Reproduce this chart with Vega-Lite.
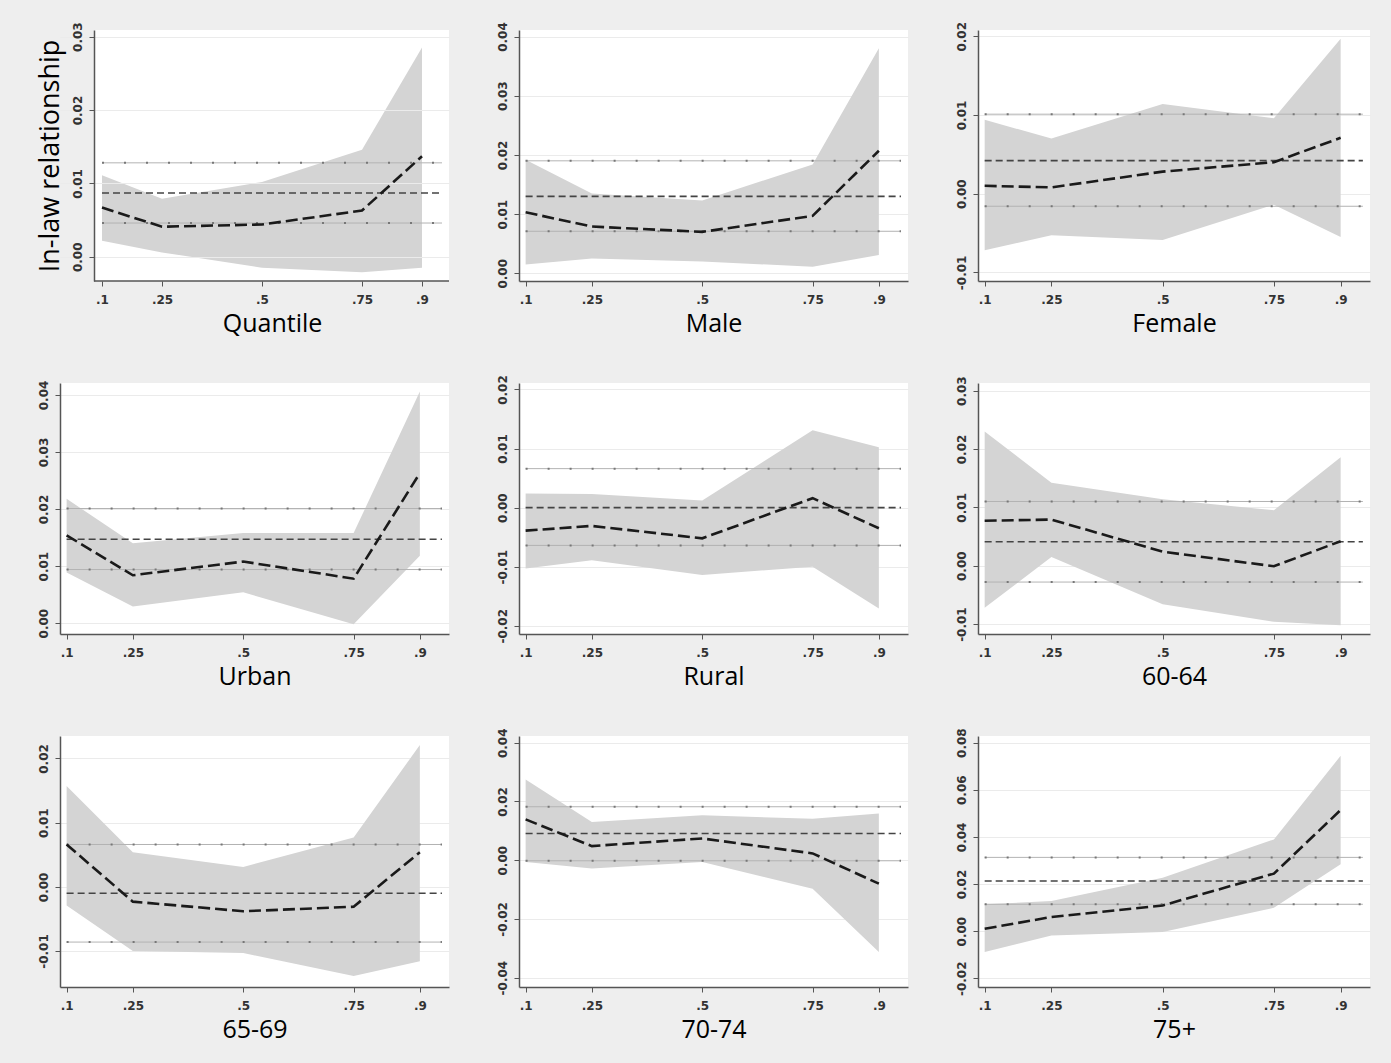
{
  "$schema": "https://vega.github.io/schema/vega-lite/v6.json",
  "background": "#eeeeee",
  "padding": {"left": 35, "top": 21, "right": 23, "bottom": 22},
  "datasets": {
    "q": [
      {"panel": "Quantile", "tau": 0.1, "est": 0.0067, "lo": 0.0022, "hi": 0.0111},
      {"panel": "Quantile", "tau": 0.25, "est": 0.0041, "lo": 0.0006, "hi": 0.0079},
      {"panel": "Quantile", "tau": 0.5, "est": 0.0044, "lo": -0.0015, "hi": 0.0102},
      {"panel": "Quantile", "tau": 0.75, "est": 0.0063, "lo": -0.0021, "hi": 0.0146},
      {"panel": "Quantile", "tau": 0.9, "est": 0.0137, "lo": -0.0015, "hi": 0.0285},
      {"panel": "Male", "tau": 0.1, "est": 0.0103, "lo": 0.0015, "hi": 0.0192},
      {"panel": "Male", "tau": 0.25, "est": 0.0079, "lo": 0.0025, "hi": 0.0135},
      {"panel": "Male", "tau": 0.5, "est": 0.0070, "lo": 0.0020, "hi": 0.0123},
      {"panel": "Male", "tau": 0.75, "est": 0.0097, "lo": 0.0011, "hi": 0.0184},
      {"panel": "Male", "tau": 0.9, "est": 0.0207, "lo": 0.0031, "hi": 0.0380},
      {"panel": "Female", "tau": 0.1, "est": 0.0010, "lo": -0.0072, "hi": 0.0094},
      {"panel": "Female", "tau": 0.25, "est": 0.0008, "lo": -0.0053, "hi": 0.0070},
      {"panel": "Female", "tau": 0.5, "est": 0.0028, "lo": -0.0059, "hi": 0.0114},
      {"panel": "Female", "tau": 0.75, "est": 0.0040, "lo": -0.0014, "hi": 0.0096},
      {"panel": "Female", "tau": 0.9, "est": 0.0071, "lo": -0.0055, "hi": 0.0197},
      {"panel": "Urban", "tau": 0.1, "est": 0.0154, "lo": 0.0089, "hi": 0.0218},
      {"panel": "Urban", "tau": 0.25, "est": 0.0084, "lo": 0.0029, "hi": 0.0140},
      {"panel": "Urban", "tau": 0.5, "est": 0.0108, "lo": 0.0054, "hi": 0.0158},
      {"panel": "Urban", "tau": 0.75, "est": 0.0078, "lo": -0.0002, "hi": 0.0158},
      {"panel": "Urban", "tau": 0.9, "est": 0.0263, "lo": 0.0118, "hi": 0.0406},
      {"panel": "Rural", "tau": 0.1, "est": -0.0039, "lo": -0.0103, "hi": 0.0024},
      {"panel": "Rural", "tau": 0.25, "est": -0.0031, "lo": -0.0089, "hi": 0.0023},
      {"panel": "Rural", "tau": 0.5, "est": -0.0052, "lo": -0.0114, "hi": 0.0012},
      {"panel": "Rural", "tau": 0.75, "est": 0.0016, "lo": -0.0100, "hi": 0.0131},
      {"panel": "Rural", "tau": 0.9, "est": -0.0035, "lo": -0.0171, "hi": 0.0102},
      {"panel": "60-64", "tau": 0.1, "est": 0.0077, "lo": -0.0072, "hi": 0.0230},
      {"panel": "60-64", "tau": 0.25, "est": 0.0079, "lo": 0.0015, "hi": 0.0142},
      {"panel": "60-64", "tau": 0.5, "est": 0.0024, "lo": -0.0066, "hi": 0.0114},
      {"panel": "60-64", "tau": 0.75, "est": -0.0001, "lo": -0.0096, "hi": 0.0095},
      {"panel": "60-64", "tau": 0.9, "est": 0.0042, "lo": -0.0102, "hi": 0.0186},
      {"panel": "65-69", "tau": 0.1, "est": 0.0066, "lo": -0.0029, "hi": 0.0157},
      {"panel": "65-69", "tau": 0.25, "est": -0.0023, "lo": -0.0100, "hi": 0.0054},
      {"panel": "65-69", "tau": 0.5, "est": -0.0038, "lo": -0.0103, "hi": 0.0031},
      {"panel": "65-69", "tau": 0.75, "est": -0.0031, "lo": -0.0139, "hi": 0.0077},
      {"panel": "65-69", "tau": 0.9, "est": 0.0054, "lo": -0.0116, "hi": 0.0221},
      {"panel": "70-74", "tau": 0.1, "est": 0.0139, "lo": -0.0006, "hi": 0.0275},
      {"panel": "70-74", "tau": 0.25, "est": 0.0048, "lo": -0.0028, "hi": 0.0130},
      {"panel": "70-74", "tau": 0.5, "est": 0.0074, "lo": -0.0006, "hi": 0.0153},
      {"panel": "70-74", "tau": 0.75, "est": 0.0023, "lo": -0.0097, "hi": 0.0141},
      {"panel": "70-74", "tau": 0.9, "est": -0.0080, "lo": -0.0313, "hi": 0.0159},
      {"panel": "75+", "tau": 0.1, "est": 0.0010, "lo": -0.0089, "hi": 0.0114},
      {"panel": "75+", "tau": 0.25, "est": 0.0060, "lo": -0.0018, "hi": 0.0128},
      {"panel": "75+", "tau": 0.5, "est": 0.0109, "lo": -0.0004, "hi": 0.0227},
      {"panel": "75+", "tau": 0.75, "est": 0.0244, "lo": 0.0099, "hi": 0.0389},
      {"panel": "75+", "tau": 0.9, "est": 0.0514, "lo": 0.0284, "hi": 0.0744}
    ],
    "ols": [
      {"panel": "Quantile", "b": 0.0087, "lo": 0.0046, "hi": 0.0128},
      {"panel": "Male", "b": 0.0130, "lo": 0.0071, "hi": 0.0190},
      {"panel": "Female", "b": 0.0042, "lo": -0.0016, "hi": 0.0101},
      {"panel": "Urban", "b": 0.0147, "lo": 0.0094, "hi": 0.0201},
      {"panel": "Rural", "b": 0.0000, "lo": -0.0064, "hi": 0.0066},
      {"panel": "60-64", "b": 0.0041, "lo": -0.0028, "hi": 0.0110},
      {"panel": "65-69", "b": -0.0010, "lo": -0.0086, "hi": 0.0066},
      {"panel": "70-74", "b": 0.0091, "lo": -0.0002, "hi": 0.0182},
      {"panel": "75+", "b": 0.0213, "lo": 0.0114, "hi": 0.0313}
    ]
  },
  "spacing": 38,
  "vconcat": [
    {"hconcat": [
      {"width": 389, "height": 251,
       "layer": [
        {"data": {"name": "ols"}, "transform": [{"filter": "datum.panel === 'Quantile'"}], "mark": {"type": "rect", "color": "#eeeeee"}, "encoding": {"x": {"datum": -0.005, "type": "quantitative", "scale": {"domain": [-0.005, 0.9675], "nice": false, "zero": false}, "axis": {"values": [0.1, 0.25, 0.5, 0.75, 0.9], "labelExpr": "slice(format(datum.value, '.2~f'), 1)", "title": "Quantile", "domain": false, "titleX": 212}}, "x2": {"datum": 0.08}, "y": {"datum": 0.0309, "type": "quantitative", "scale": {"domain": [-0.0033, 0.0309], "nice": false, "zero": false}, "axis": {"values": [0, 0.01, 0.02, 0.03], "labelExpr": "replace(format(datum.value, '.2f'), '\u2212', '-')", "title": "In-law relationship", "offset": -34, "zindex": 1}}, "y2": {"datum": -0.0033}}},
        {"data": {"name": "ols"}, "transform": [{"filter": "datum.panel === 'Quantile'"}], "mark": {"type": "rule", "color": "#555555", "strokeWidth": 1.5}, "encoding": {"x": {"datum": 0.08, "type": "quantitative"}, "x2": {"datum": 0.9675}, "y": {"datum": -0.0033, "type": "quantitative"}}},
        {"data": {"name": "q"}, "transform": [{"filter": "datum.panel === 'Quantile'"}], "mark": {"type": "area", "color": "#d4d4d4"}, "encoding": {"x": {"field": "tau", "type": "quantitative"}, "y": {"field": "lo", "type": "quantitative"}, "y2": {"field": "hi"}}},
        {"data": {"name": "ols"}, "transform": [{"filter": "datum.panel === 'Quantile'"}], "layer": [
          {"mark": {"type": "rule", "color": "#b3b3b3", "strokeWidth": 1}, "encoding": {"x": {"datum": 0.1, "type": "quantitative"}, "x2": {"datum": 0.95}, "y": {"field": "lo", "type": "quantitative"}}},
          {"mark": {"type": "rule", "color": "#b3b3b3", "strokeWidth": 1}, "encoding": {"x": {"datum": 0.1, "type": "quantitative"}, "x2": {"datum": 0.95}, "y": {"field": "hi", "type": "quantitative"}}},
          {"mark": {"type": "rule", "color": "#777777", "strokeWidth": 2, "strokeDash": [2, 20]}, "encoding": {"x": {"datum": 0.1, "type": "quantitative"}, "x2": {"datum": 0.95}, "y": {"field": "lo", "type": "quantitative"}}},
          {"mark": {"type": "rule", "color": "#777777", "strokeWidth": 2, "strokeDash": [2, 20]}, "encoding": {"x": {"datum": 0.1, "type": "quantitative"}, "x2": {"datum": 0.95}, "y": {"field": "hi", "type": "quantitative"}}},
          {"mark": {"type": "rule", "color": "#444444", "strokeWidth": 1.6, "strokeDash": [7, 4]}, "encoding": {"x": {"datum": 0.1, "type": "quantitative"}, "x2": {"datum": 0.95}, "y": {"field": "b", "type": "quantitative"}}}
        ]},
        {"data": {"name": "q"}, "transform": [{"filter": "datum.panel === 'Quantile'"}], "mark": {"type": "line", "color": "#1a1a1a", "strokeWidth": 2.6, "strokeDash": [12, 5]}, "encoding": {"x": {"field": "tau", "type": "quantitative"}, "y": {"field": "est", "type": "quantitative"}}}
       ]},
      {"width": 389, "height": 251,
       "layer": [
        {"data": {"name": "q"}, "transform": [{"filter": "datum.panel === 'Male'"}], "mark": {"type": "area", "color": "#d4d4d4"}, "encoding": {"x": {"field": "tau", "type": "quantitative", "scale": {"domain": [0.085, 0.966], "nice": false, "zero": false}, "axis": {"values": [0.1, 0.25, 0.5, 0.75, 0.9], "labelExpr": "slice(format(datum.value, '.2~f'), 1)", "title": "Male"}}, "y": {"field": "lo", "type": "quantitative", "scale": {"domain": [-0.0013, 0.0411], "nice": false, "zero": false}, "axis": {"values": [0, 0.01, 0.02, 0.03, 0.04], "labelExpr": "replace(format(datum.value, '.2f'), '\u2212', '-')", "title": null}}, "y2": {"field": "hi"}}},
        {"data": {"name": "ols"}, "transform": [{"filter": "datum.panel === 'Male'"}], "layer": [
          {"mark": {"type": "rule", "color": "#b3b3b3", "strokeWidth": 1}, "encoding": {"x": {"datum": 0.1, "type": "quantitative"}, "x2": {"datum": 0.95}, "y": {"field": "lo", "type": "quantitative"}}},
          {"mark": {"type": "rule", "color": "#b3b3b3", "strokeWidth": 1}, "encoding": {"x": {"datum": 0.1, "type": "quantitative"}, "x2": {"datum": 0.95}, "y": {"field": "hi", "type": "quantitative"}}},
          {"mark": {"type": "rule", "color": "#777777", "strokeWidth": 2, "strokeDash": [2, 20]}, "encoding": {"x": {"datum": 0.1, "type": "quantitative"}, "x2": {"datum": 0.95}, "y": {"field": "lo", "type": "quantitative"}}},
          {"mark": {"type": "rule", "color": "#777777", "strokeWidth": 2, "strokeDash": [2, 20]}, "encoding": {"x": {"datum": 0.1, "type": "quantitative"}, "x2": {"datum": 0.95}, "y": {"field": "hi", "type": "quantitative"}}},
          {"mark": {"type": "rule", "color": "#444444", "strokeWidth": 1.6, "strokeDash": [7, 4]}, "encoding": {"x": {"datum": 0.1, "type": "quantitative"}, "x2": {"datum": 0.95}, "y": {"field": "b", "type": "quantitative"}}}
        ]},
        {"data": {"name": "q"}, "transform": [{"filter": "datum.panel === 'Male'"}], "mark": {"type": "line", "color": "#1a1a1a", "strokeWidth": 2.6, "strokeDash": [12, 5]}, "encoding": {"x": {"field": "tau", "type": "quantitative"}, "y": {"field": "est", "type": "quantitative"}}}
       ]},
      {"width": 392, "height": 251,
       "layer": [
        {"data": {"name": "q"}, "transform": [{"filter": "datum.panel === 'Female'"}], "mark": {"type": "area", "color": "#d4d4d4"}, "encoding": {"x": {"field": "tau", "type": "quantitative", "scale": {"domain": [0.085, 0.966], "nice": false, "zero": false}, "axis": {"values": [0.1, 0.25, 0.5, 0.75, 0.9], "labelExpr": "slice(format(datum.value, '.2~f'), 1)", "title": "Female"}}, "y": {"field": "lo", "type": "quantitative", "scale": {"domain": [-0.0111, 0.0208], "nice": false, "zero": false}, "axis": {"values": [-0.01, 0, 0.01, 0.02], "labelExpr": "replace(format(datum.value, '.2f'), '\u2212', '-')", "title": null}}, "y2": {"field": "hi"}}},
        {"data": {"name": "ols"}, "transform": [{"filter": "datum.panel === 'Female'"}], "layer": [
          {"mark": {"type": "rule", "color": "#b3b3b3", "strokeWidth": 1}, "encoding": {"x": {"datum": 0.1, "type": "quantitative"}, "x2": {"datum": 0.95}, "y": {"field": "lo", "type": "quantitative"}}},
          {"mark": {"type": "rule", "color": "#b3b3b3", "strokeWidth": 1}, "encoding": {"x": {"datum": 0.1, "type": "quantitative"}, "x2": {"datum": 0.95}, "y": {"field": "hi", "type": "quantitative"}}},
          {"mark": {"type": "rule", "color": "#777777", "strokeWidth": 2, "strokeDash": [2, 20]}, "encoding": {"x": {"datum": 0.1, "type": "quantitative"}, "x2": {"datum": 0.95}, "y": {"field": "lo", "type": "quantitative"}}},
          {"mark": {"type": "rule", "color": "#777777", "strokeWidth": 2, "strokeDash": [2, 20]}, "encoding": {"x": {"datum": 0.1, "type": "quantitative"}, "x2": {"datum": 0.95}, "y": {"field": "hi", "type": "quantitative"}}},
          {"mark": {"type": "rule", "color": "#444444", "strokeWidth": 1.6, "strokeDash": [7, 4]}, "encoding": {"x": {"datum": 0.1, "type": "quantitative"}, "x2": {"datum": 0.95}, "y": {"field": "b", "type": "quantitative"}}}
        ]},
        {"data": {"name": "q"}, "transform": [{"filter": "datum.panel === 'Female'"}], "mark": {"type": "line", "color": "#1a1a1a", "strokeWidth": 2.6, "strokeDash": [12, 5]}, "encoding": {"x": {"field": "tau", "type": "quantitative"}, "y": {"field": "est", "type": "quantitative"}}}
       ]}
    ], "bounds": "flush", "spacing": 70},
    {"hconcat": [
      {"width": 389, "height": 251,
       "layer": [
        {"data": {"name": "q"}, "transform": [{"filter": "datum.panel === 'Urban'"}], "mark": {"type": "area", "color": "#d4d4d4"}, "encoding": {"x": {"field": "tau", "type": "quantitative", "scale": {"domain": [0.085, 0.966], "nice": false, "zero": false}, "axis": {"values": [0.1, 0.25, 0.5, 0.75, 0.9], "labelExpr": "slice(format(datum.value, '.2~f'), 1)", "title": "Urban"}}, "y": {"field": "lo", "type": "quantitative", "scale": {"domain": [-0.0019, 0.0421], "nice": false, "zero": false}, "axis": {"values": [0, 0.01, 0.02, 0.03, 0.04], "labelExpr": "replace(format(datum.value, '.2f'), '\u2212', '-')", "title": null}}, "y2": {"field": "hi"}}},
        {"data": {"name": "ols"}, "transform": [{"filter": "datum.panel === 'Urban'"}], "layer": [
          {"mark": {"type": "rule", "color": "#b3b3b3", "strokeWidth": 1}, "encoding": {"x": {"datum": 0.1, "type": "quantitative"}, "x2": {"datum": 0.95}, "y": {"field": "lo", "type": "quantitative"}}},
          {"mark": {"type": "rule", "color": "#b3b3b3", "strokeWidth": 1}, "encoding": {"x": {"datum": 0.1, "type": "quantitative"}, "x2": {"datum": 0.95}, "y": {"field": "hi", "type": "quantitative"}}},
          {"mark": {"type": "rule", "color": "#777777", "strokeWidth": 2, "strokeDash": [2, 20]}, "encoding": {"x": {"datum": 0.1, "type": "quantitative"}, "x2": {"datum": 0.95}, "y": {"field": "lo", "type": "quantitative"}}},
          {"mark": {"type": "rule", "color": "#777777", "strokeWidth": 2, "strokeDash": [2, 20]}, "encoding": {"x": {"datum": 0.1, "type": "quantitative"}, "x2": {"datum": 0.95}, "y": {"field": "hi", "type": "quantitative"}}},
          {"mark": {"type": "rule", "color": "#444444", "strokeWidth": 1.6, "strokeDash": [7, 4]}, "encoding": {"x": {"datum": 0.1, "type": "quantitative"}, "x2": {"datum": 0.95}, "y": {"field": "b", "type": "quantitative"}}}
        ]},
        {"data": {"name": "q"}, "transform": [{"filter": "datum.panel === 'Urban'"}], "mark": {"type": "line", "color": "#1a1a1a", "strokeWidth": 2.6, "strokeDash": [12, 5]}, "encoding": {"x": {"field": "tau", "type": "quantitative"}, "y": {"field": "est", "type": "quantitative"}}}
       ]},
      {"width": 389, "height": 251,
       "layer": [
        {"data": {"name": "q"}, "transform": [{"filter": "datum.panel === 'Rural'"}], "mark": {"type": "area", "color": "#d4d4d4"}, "encoding": {"x": {"field": "tau", "type": "quantitative", "scale": {"domain": [0.085, 0.966], "nice": false, "zero": false}, "axis": {"values": [0.1, 0.25, 0.5, 0.75, 0.9], "labelExpr": "slice(format(datum.value, '.2~f'), 1)", "title": "Rural"}}, "y": {"field": "lo", "type": "quantitative", "scale": {"domain": [-0.0214, 0.0211], "nice": false, "zero": false}, "axis": {"values": [-0.02, -0.01, 0, 0.01, 0.02], "labelExpr": "replace(format(datum.value, '.2f'), '\u2212', '-')", "title": null}}, "y2": {"field": "hi"}}},
        {"data": {"name": "ols"}, "transform": [{"filter": "datum.panel === 'Rural'"}], "layer": [
          {"mark": {"type": "rule", "color": "#b3b3b3", "strokeWidth": 1}, "encoding": {"x": {"datum": 0.1, "type": "quantitative"}, "x2": {"datum": 0.95}, "y": {"field": "lo", "type": "quantitative"}}},
          {"mark": {"type": "rule", "color": "#b3b3b3", "strokeWidth": 1}, "encoding": {"x": {"datum": 0.1, "type": "quantitative"}, "x2": {"datum": 0.95}, "y": {"field": "hi", "type": "quantitative"}}},
          {"mark": {"type": "rule", "color": "#777777", "strokeWidth": 2, "strokeDash": [2, 20]}, "encoding": {"x": {"datum": 0.1, "type": "quantitative"}, "x2": {"datum": 0.95}, "y": {"field": "lo", "type": "quantitative"}}},
          {"mark": {"type": "rule", "color": "#777777", "strokeWidth": 2, "strokeDash": [2, 20]}, "encoding": {"x": {"datum": 0.1, "type": "quantitative"}, "x2": {"datum": 0.95}, "y": {"field": "hi", "type": "quantitative"}}},
          {"mark": {"type": "rule", "color": "#444444", "strokeWidth": 1.6, "strokeDash": [7, 4]}, "encoding": {"x": {"datum": 0.1, "type": "quantitative"}, "x2": {"datum": 0.95}, "y": {"field": "b", "type": "quantitative"}}}
        ]},
        {"data": {"name": "q"}, "transform": [{"filter": "datum.panel === 'Rural'"}], "mark": {"type": "line", "color": "#1a1a1a", "strokeWidth": 2.6, "strokeDash": [12, 5]}, "encoding": {"x": {"field": "tau", "type": "quantitative"}, "y": {"field": "est", "type": "quantitative"}}}
       ]},
      {"width": 392, "height": 251,
       "layer": [
        {"data": {"name": "q"}, "transform": [{"filter": "datum.panel === '60-64'"}], "mark": {"type": "area", "color": "#d4d4d4"}, "encoding": {"x": {"field": "tau", "type": "quantitative", "scale": {"domain": [0.085, 0.966], "nice": false, "zero": false}, "axis": {"values": [0.1, 0.25, 0.5, 0.75, 0.9], "labelExpr": "slice(format(datum.value, '.2~f'), 1)", "title": "60-64"}}, "y": {"field": "lo", "type": "quantitative", "scale": {"domain": [-0.0117, 0.0313], "nice": false, "zero": false}, "axis": {"values": [-0.01, 0, 0.01, 0.02, 0.03], "labelExpr": "replace(format(datum.value, '.2f'), '\u2212', '-')", "title": null}}, "y2": {"field": "hi"}}},
        {"data": {"name": "ols"}, "transform": [{"filter": "datum.panel === '60-64'"}], "layer": [
          {"mark": {"type": "rule", "color": "#b3b3b3", "strokeWidth": 1}, "encoding": {"x": {"datum": 0.1, "type": "quantitative"}, "x2": {"datum": 0.95}, "y": {"field": "lo", "type": "quantitative"}}},
          {"mark": {"type": "rule", "color": "#b3b3b3", "strokeWidth": 1}, "encoding": {"x": {"datum": 0.1, "type": "quantitative"}, "x2": {"datum": 0.95}, "y": {"field": "hi", "type": "quantitative"}}},
          {"mark": {"type": "rule", "color": "#777777", "strokeWidth": 2, "strokeDash": [2, 20]}, "encoding": {"x": {"datum": 0.1, "type": "quantitative"}, "x2": {"datum": 0.95}, "y": {"field": "lo", "type": "quantitative"}}},
          {"mark": {"type": "rule", "color": "#777777", "strokeWidth": 2, "strokeDash": [2, 20]}, "encoding": {"x": {"datum": 0.1, "type": "quantitative"}, "x2": {"datum": 0.95}, "y": {"field": "hi", "type": "quantitative"}}},
          {"mark": {"type": "rule", "color": "#444444", "strokeWidth": 1.6, "strokeDash": [7, 4]}, "encoding": {"x": {"datum": 0.1, "type": "quantitative"}, "x2": {"datum": 0.95}, "y": {"field": "b", "type": "quantitative"}}}
        ]},
        {"data": {"name": "q"}, "transform": [{"filter": "datum.panel === '60-64'"}], "mark": {"type": "line", "color": "#1a1a1a", "strokeWidth": 2.6, "strokeDash": [12, 5]}, "encoding": {"x": {"field": "tau", "type": "quantitative"}, "y": {"field": "est", "type": "quantitative"}}}
       ]}
    ], "bounds": "flush", "spacing": 70},
    {"hconcat": [
      {"width": 389, "height": 251,
       "layer": [
        {"data": {"name": "q"}, "transform": [{"filter": "datum.panel === '65-69'"}], "mark": {"type": "area", "color": "#d4d4d4"}, "encoding": {"x": {"field": "tau", "type": "quantitative", "scale": {"domain": [0.085, 0.966], "nice": false, "zero": false}, "axis": {"values": [0.1, 0.25, 0.5, 0.75, 0.9], "labelExpr": "slice(format(datum.value, '.2~f'), 1)", "title": "65-69"}}, "y": {"field": "lo", "type": "quantitative", "scale": {"domain": [-0.0156, 0.0235], "nice": false, "zero": false}, "axis": {"values": [-0.01, 0, 0.01, 0.02], "labelExpr": "replace(format(datum.value, '.2f'), '\u2212', '-')", "title": null}}, "y2": {"field": "hi"}}},
        {"data": {"name": "ols"}, "transform": [{"filter": "datum.panel === '65-69'"}], "layer": [
          {"mark": {"type": "rule", "color": "#b3b3b3", "strokeWidth": 1}, "encoding": {"x": {"datum": 0.1, "type": "quantitative"}, "x2": {"datum": 0.95}, "y": {"field": "lo", "type": "quantitative"}}},
          {"mark": {"type": "rule", "color": "#b3b3b3", "strokeWidth": 1}, "encoding": {"x": {"datum": 0.1, "type": "quantitative"}, "x2": {"datum": 0.95}, "y": {"field": "hi", "type": "quantitative"}}},
          {"mark": {"type": "rule", "color": "#777777", "strokeWidth": 2, "strokeDash": [2, 20]}, "encoding": {"x": {"datum": 0.1, "type": "quantitative"}, "x2": {"datum": 0.95}, "y": {"field": "lo", "type": "quantitative"}}},
          {"mark": {"type": "rule", "color": "#777777", "strokeWidth": 2, "strokeDash": [2, 20]}, "encoding": {"x": {"datum": 0.1, "type": "quantitative"}, "x2": {"datum": 0.95}, "y": {"field": "hi", "type": "quantitative"}}},
          {"mark": {"type": "rule", "color": "#444444", "strokeWidth": 1.6, "strokeDash": [7, 4]}, "encoding": {"x": {"datum": 0.1, "type": "quantitative"}, "x2": {"datum": 0.95}, "y": {"field": "b", "type": "quantitative"}}}
        ]},
        {"data": {"name": "q"}, "transform": [{"filter": "datum.panel === '65-69'"}], "mark": {"type": "line", "color": "#1a1a1a", "strokeWidth": 2.6, "strokeDash": [12, 5]}, "encoding": {"x": {"field": "tau", "type": "quantitative"}, "y": {"field": "est", "type": "quantitative"}}}
       ]},
      {"width": 389, "height": 251,
       "layer": [
        {"data": {"name": "q"}, "transform": [{"filter": "datum.panel === '70-74'"}], "mark": {"type": "area", "color": "#d4d4d4"}, "encoding": {"x": {"field": "tau", "type": "quantitative", "scale": {"domain": [0.085, 0.966], "nice": false, "zero": false}, "axis": {"values": [0.1, 0.25, 0.5, 0.75, 0.9], "labelExpr": "slice(format(datum.value, '.2~f'), 1)", "title": "70-74"}}, "y": {"field": "lo", "type": "quantitative", "scale": {"domain": [-0.0432, 0.0423], "nice": false, "zero": false}, "axis": {"values": [-0.04, -0.02, 0, 0.02, 0.04], "labelExpr": "replace(format(datum.value, '.2f'), '\u2212', '-')", "title": null}}, "y2": {"field": "hi"}}},
        {"data": {"name": "ols"}, "transform": [{"filter": "datum.panel === '70-74'"}], "layer": [
          {"mark": {"type": "rule", "color": "#b3b3b3", "strokeWidth": 1}, "encoding": {"x": {"datum": 0.1, "type": "quantitative"}, "x2": {"datum": 0.95}, "y": {"field": "lo", "type": "quantitative"}}},
          {"mark": {"type": "rule", "color": "#b3b3b3", "strokeWidth": 1}, "encoding": {"x": {"datum": 0.1, "type": "quantitative"}, "x2": {"datum": 0.95}, "y": {"field": "hi", "type": "quantitative"}}},
          {"mark": {"type": "rule", "color": "#777777", "strokeWidth": 2, "strokeDash": [2, 20]}, "encoding": {"x": {"datum": 0.1, "type": "quantitative"}, "x2": {"datum": 0.95}, "y": {"field": "lo", "type": "quantitative"}}},
          {"mark": {"type": "rule", "color": "#777777", "strokeWidth": 2, "strokeDash": [2, 20]}, "encoding": {"x": {"datum": 0.1, "type": "quantitative"}, "x2": {"datum": 0.95}, "y": {"field": "hi", "type": "quantitative"}}},
          {"mark": {"type": "rule", "color": "#444444", "strokeWidth": 1.6, "strokeDash": [7, 4]}, "encoding": {"x": {"datum": 0.1, "type": "quantitative"}, "x2": {"datum": 0.95}, "y": {"field": "b", "type": "quantitative"}}}
        ]},
        {"data": {"name": "q"}, "transform": [{"filter": "datum.panel === '70-74'"}], "mark": {"type": "line", "color": "#1a1a1a", "strokeWidth": 2.6, "strokeDash": [12, 5]}, "encoding": {"x": {"field": "tau", "type": "quantitative"}, "y": {"field": "est", "type": "quantitative"}}}
       ]},
      {"width": 392, "height": 251,
       "layer": [
        {"data": {"name": "q"}, "transform": [{"filter": "datum.panel === '75+'"}], "mark": {"type": "area", "color": "#d4d4d4"}, "encoding": {"x": {"field": "tau", "type": "quantitative", "scale": {"domain": [0.085, 0.966], "nice": false, "zero": false}, "axis": {"values": [0.1, 0.25, 0.5, 0.75, 0.9], "labelExpr": "slice(format(datum.value, '.2~f'), 1)", "title": "75+"}}, "y": {"field": "lo", "type": "quantitative", "scale": {"domain": [-0.0237, 0.0828], "nice": false, "zero": false}, "axis": {"values": [-0.02, 0, 0.02, 0.04, 0.06, 0.08], "labelExpr": "replace(format(datum.value, '.2f'), '\u2212', '-')", "title": null}}, "y2": {"field": "hi"}}},
        {"data": {"name": "ols"}, "transform": [{"filter": "datum.panel === '75+'"}], "layer": [
          {"mark": {"type": "rule", "color": "#b3b3b3", "strokeWidth": 1}, "encoding": {"x": {"datum": 0.1, "type": "quantitative"}, "x2": {"datum": 0.95}, "y": {"field": "lo", "type": "quantitative"}}},
          {"mark": {"type": "rule", "color": "#b3b3b3", "strokeWidth": 1}, "encoding": {"x": {"datum": 0.1, "type": "quantitative"}, "x2": {"datum": 0.95}, "y": {"field": "hi", "type": "quantitative"}}},
          {"mark": {"type": "rule", "color": "#777777", "strokeWidth": 2, "strokeDash": [2, 20]}, "encoding": {"x": {"datum": 0.1, "type": "quantitative"}, "x2": {"datum": 0.95}, "y": {"field": "lo", "type": "quantitative"}}},
          {"mark": {"type": "rule", "color": "#777777", "strokeWidth": 2, "strokeDash": [2, 20]}, "encoding": {"x": {"datum": 0.1, "type": "quantitative"}, "x2": {"datum": 0.95}, "y": {"field": "hi", "type": "quantitative"}}},
          {"mark": {"type": "rule", "color": "#444444", "strokeWidth": 1.6, "strokeDash": [7, 4]}, "encoding": {"x": {"datum": 0.1, "type": "quantitative"}, "x2": {"datum": 0.95}, "y": {"field": "b", "type": "quantitative"}}}
        ]},
        {"data": {"name": "q"}, "transform": [{"filter": "datum.panel === '75+'"}], "mark": {"type": "line", "color": "#1a1a1a", "strokeWidth": 2.6, "strokeDash": [12, 5]}, "encoding": {"x": {"field": "tau", "type": "quantitative"}, "y": {"field": "est", "type": "quantitative"}}}
       ]}
    ], "bounds": "flush", "spacing": 70}
  ],
  "config": {
    "view": {"fill": "white", "stroke": null},
    "axis": {"domainColor": "#555555", "domainWidth": 1.5, "tickColor": "#555555", "tickSize": 5, "labelFont": "DejaVu Sans", "labelFontSize": 12, "labelFontWeight": "bold", "labelColor": "#333333", "titleFont": "Open Sans", "titleFontSize": 25, "titleFontWeight": "normal", "titleColor": "#000000", "gridColor": "#ebebeb", "gridWidth": 1},
    "axisX": {"grid": false, "labelPadding": 8, "titlePadding": 6, "labelFlush": false},
    "axisY": {"grid": true, "labelAngle": -90, "labelAlign": "center", "labelBaseline": "bottom", "labelPadding": 5, "titlePadding": 7, "titleFontSize": 27}
  }
}
